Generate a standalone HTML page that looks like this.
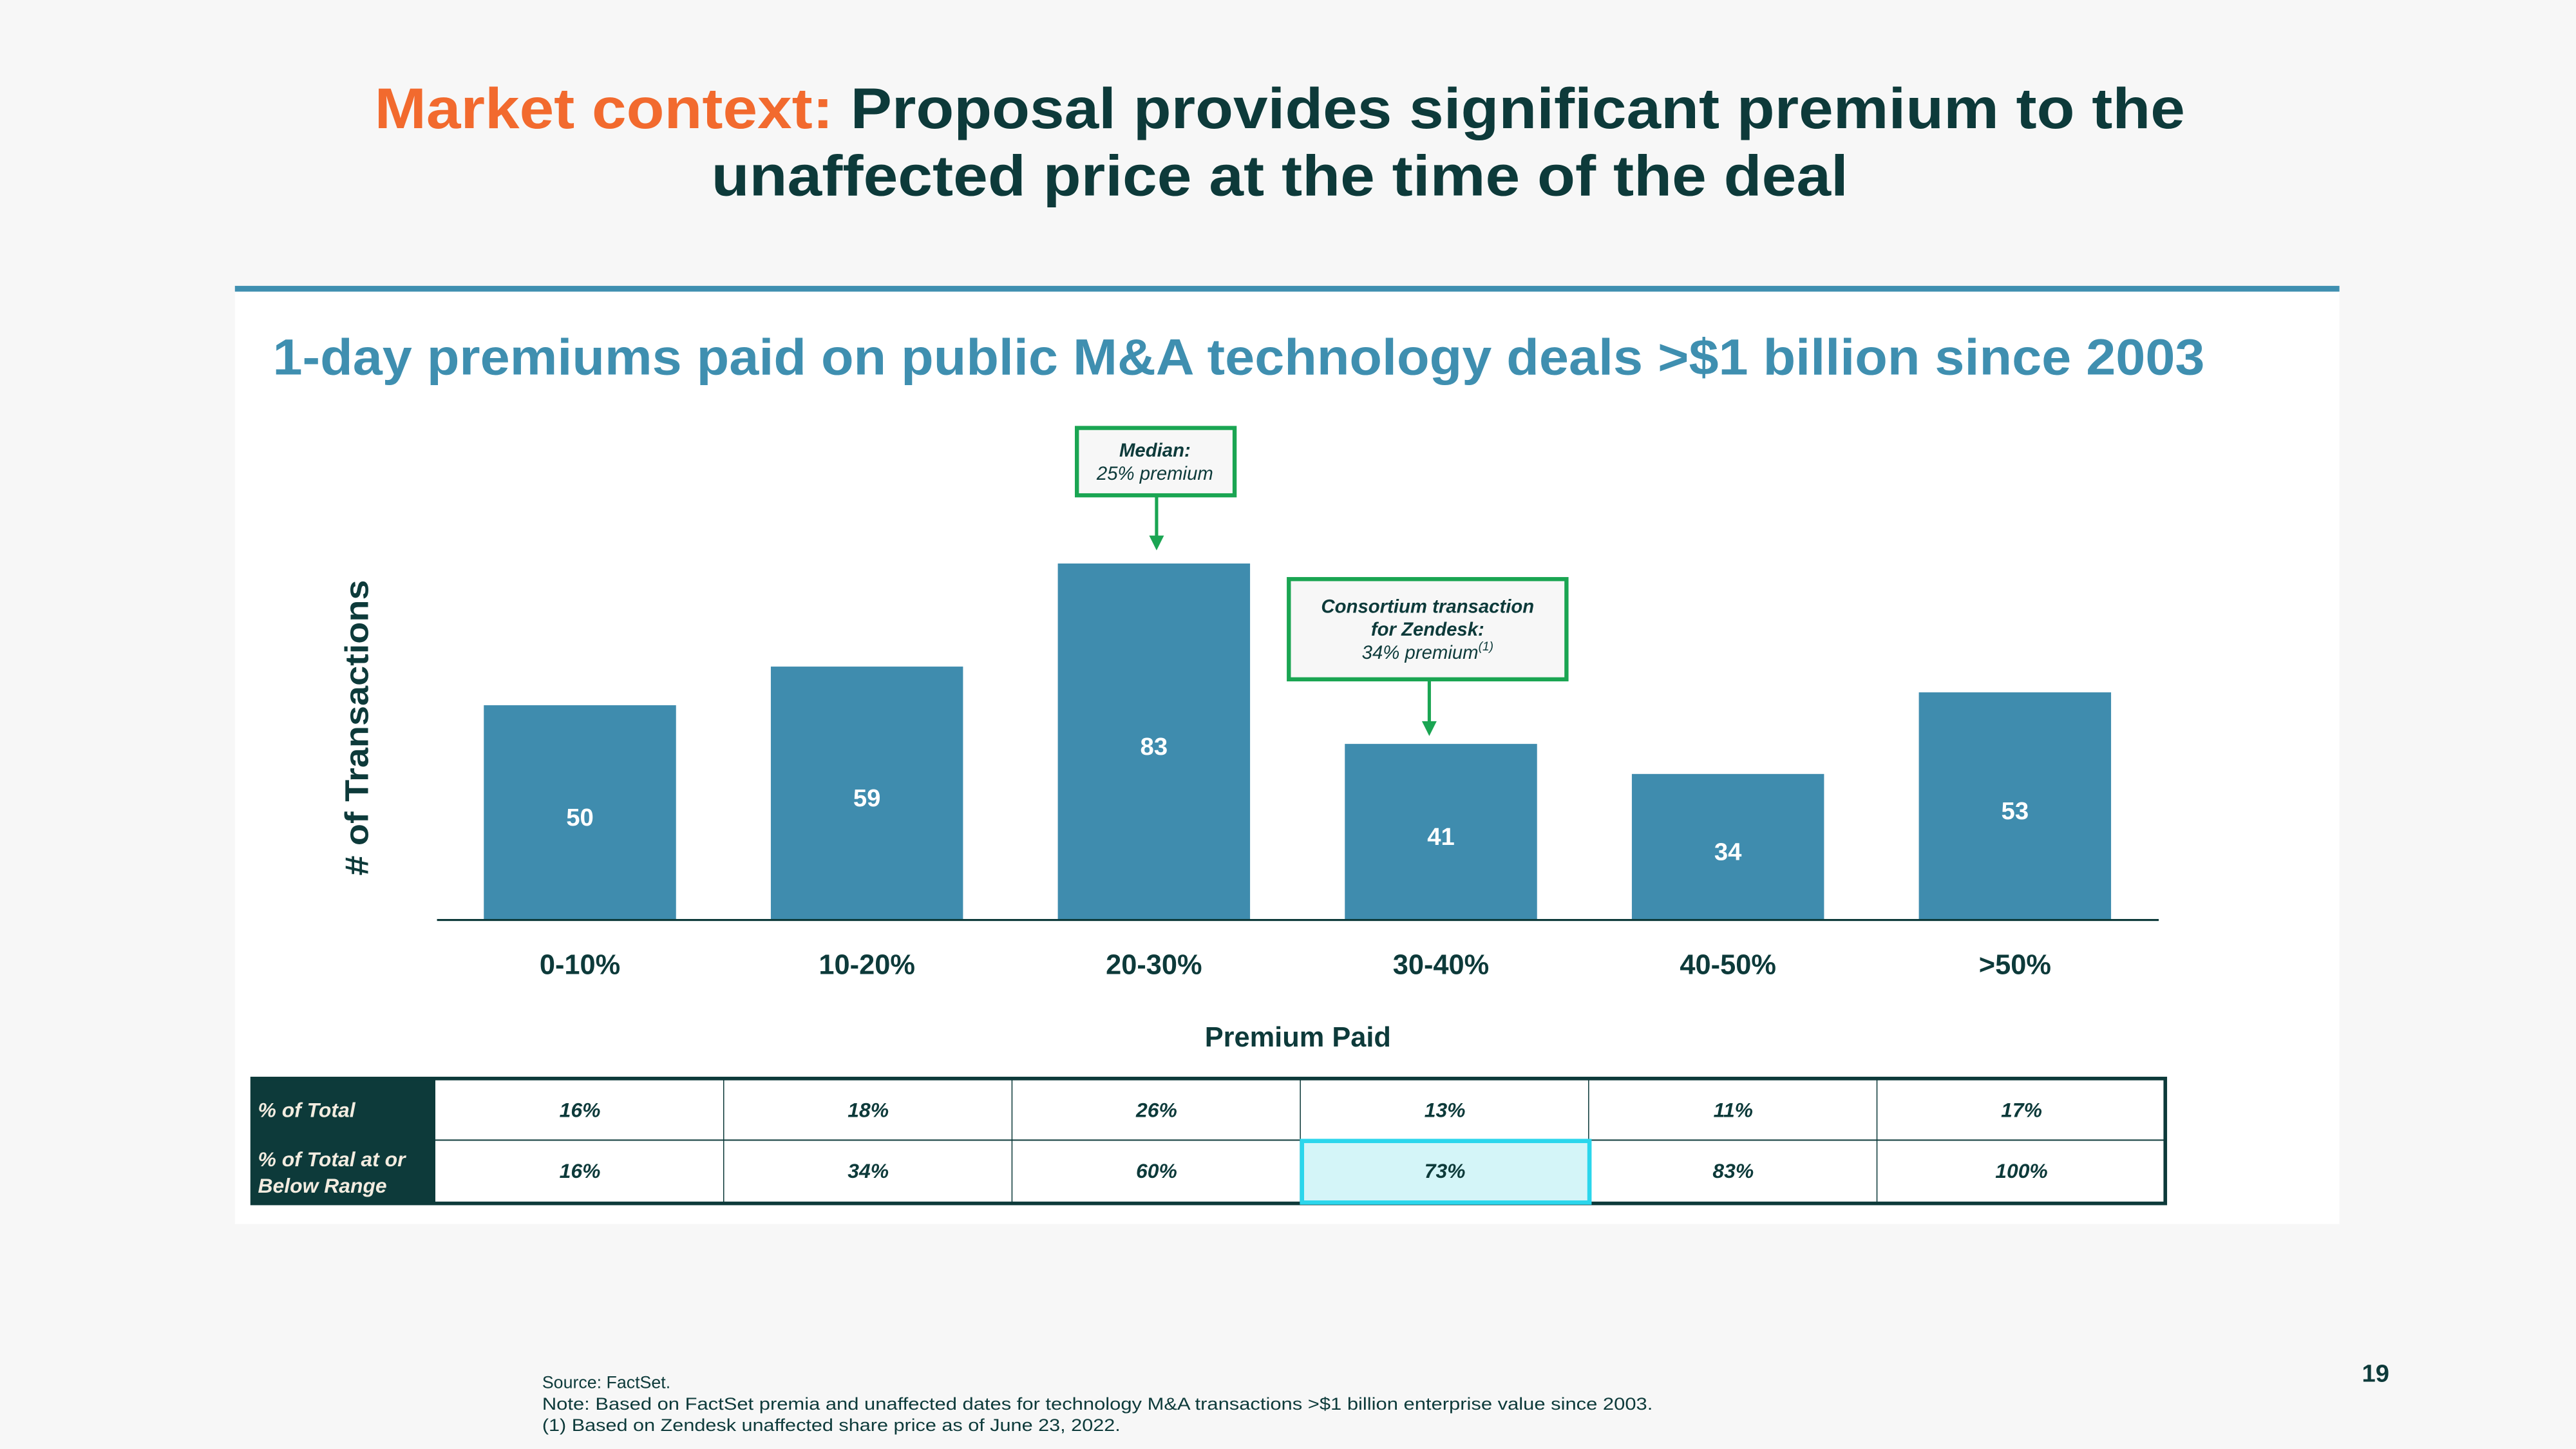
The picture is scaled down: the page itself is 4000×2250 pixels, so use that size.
<!DOCTYPE html>
<html><head><meta charset="utf-8"><style>
html,body{margin:0;padding:0;background:#f7f7f7;}
svg{display:block;font-family:"Liberation Sans",sans-serif;}
</style></head><body>
<svg id="c" width="4000" height="2250" viewBox="0 0 1568 882" xmlns="http://www.w3.org/2000/svg">
<rect width="1568" height="882" fill="#f7f7f7"/>
<text x="228" y="78" font-size="35" font-weight="bold" fill="#0d3a3a" textLength="1102" lengthAdjust="spacingAndGlyphs"><tspan fill="#f26a2e">Market context: </tspan> Proposal provides significant premium to the</text>
<text x="433" y="119" font-size="35" font-weight="bold" fill="#0d3a3a" textLength="692" lengthAdjust="spacingAndGlyphs">unaffected price at the time of the deal</text>
<rect x="143" y="175" width="1281" height="570" fill="#ffffff"/>
<rect x="143" y="174" width="1281" height="3.5" fill="#3f8fb0"/>
<text x="166" y="228" font-size="31" font-weight="bold" fill="#3f8fb0" textLength="1176" lengthAdjust="spacingAndGlyphs">1-day premiums paid on public M&amp;A technology deals &gt;$1 billion since 2003</text>
<text transform="translate(224,443) rotate(-90)" text-anchor="middle" font-size="20" font-weight="bold" fill="#0d3a3a" textLength="180" lengthAdjust="spacingAndGlyphs"># of Transactions</text>
<g id="bars"></g>
<line x1="266" y1="560" x2="1314" y2="560" stroke="#0d3a3a" stroke-width="1.2"/>
<g id="xlabels"></g>
<text x="790" y="637" text-anchor="middle" font-size="17" font-weight="bold" fill="#0d3a3a">Premium Paid</text>
<g>
<rect x="655.5" y="260.5" width="96" height="41" fill="#f7f7f7" stroke="#1aa552" stroke-width="2.5"/>
<text x="703" y="278" text-anchor="middle" font-size="11.5" font-weight="bold" font-style="italic" fill="#0d3a3a">Median:</text>
<text x="703" y="292" text-anchor="middle" font-size="11.5" font-style="italic" fill="#0d3a3a">25% premium</text>
<line x1="704" y1="302" x2="704" y2="328" stroke="#1aa552" stroke-width="2"/>
<polygon points="699.5,326 708.5,326 704,335" fill="#1aa552"/>
</g>
<g>
<rect x="784.5" y="352.5" width="169" height="61" fill="#f7f7f7" stroke="#1aa552" stroke-width="2.5"/>
<text x="869" y="373" text-anchor="middle" font-size="11.5" font-weight="bold" font-style="italic" fill="#0d3a3a">Consortium transaction</text>
<text x="869" y="387" text-anchor="middle" font-size="11.5" font-weight="bold" font-style="italic" fill="#0d3a3a">for Zendesk:</text>
<text x="869" y="401" text-anchor="middle" font-size="11.5" font-style="italic" fill="#0d3a3a">34% premium<tspan font-size="7.5" dy="-5">(1)</tspan></text>
<line x1="870" y1="414" x2="870" y2="441" stroke="#1aa552" stroke-width="2"/>
<polygon points="865.5,439 874.5,439 870,448" fill="#1aa552"/>
</g>
<g id="table">
<rect x="153" y="656" width="112" height="77" fill="#0d3a3a"/>
<text x="157" y="680" font-size="12.5" font-weight="bold" font-style="italic" fill="#f3ece0">% of Total</text>
<text x="157" y="710" font-size="12.5" font-weight="bold" font-style="italic" fill="#f3ece0">% of Total at or</text>
<text x="157" y="726" font-size="12.5" font-weight="bold" font-style="italic" fill="#f3ece0">Below Range</text>
</g>
<text x="330" y="845" font-size="10.5" fill="#0d3a3a">Source: FactSet.</text>
<text x="330" y="858" font-size="10.5" fill="#0d3a3a" textLength="676" lengthAdjust="spacingAndGlyphs">Note: Based on FactSet premia and unaffected dates for technology M&amp;A transactions &gt;$1 billion enterprise value since 2003.</text>
<text x="330" y="871" font-size="10.5" fill="#0d3a3a" textLength="352" lengthAdjust="spacingAndGlyphs">(1)  Based on Zendesk unaffected share price as of June 23, 2022.</text>
<text x="1446" y="841" text-anchor="middle" font-size="15" font-weight="bold" fill="#0d3a3a">19</text>
</svg>
<script>
const categories = ["0-10%","10-20%","20-30%","30-40%","40-50%",">50%"];
const counts = [50,59,83,41,34,53];
const pctTotal = ["16%","18%","26%","13%","11%","17%"];
const pctCumulative = ["16%","34%","60%","73%","83%","100%"];
const highlightIndex = 3;

const NS="http://www.w3.org/2000/svg";
const baseY=560, pxPerUnit=217/83, x0=353, step=174.7, barW=117;
const xPos=i=>x0+i*step;
const yPos=v=>baseY-v*pxPerUnit;
function el(tag,attrs,parent){const e=document.createElementNS(NS,tag);for(const k in attrs)e.setAttribute(k,attrs[k]);parent.appendChild(e);return e;}
const bars=document.getElementById('bars'), xl=document.getElementById('xlabels'), tb=document.getElementById('table');
counts.forEach((v,i)=>{
  const r=el('rect',{x:xPos(i)-barW/2,y:yPos(v),width:barW,height:baseY-yPos(v),fill:'#3f8cae'},bars);
  
  
  const t=el('text',{x:xPos(i),y:(yPos(v)+baseY)/2+8,'text-anchor':'middle','font-size':15,'font-weight':'bold',fill:'#ffffff'},bars);
  t.textContent=v;
  
  
  const c=el('text',{x:xPos(i),y:593,'text-anchor':'middle','font-size':17,'font-weight':'bold',fill:'#0d3a3a'},xl);
  c.textContent=categories[i];
  
  
});
const colX=i=>265+i*175.5;
el('rect',{x:265,y:657,width:1053,height:75,fill:'#ffffff'},tb);
if(highlightIndex>=0){
  const h=el('rect',{x:colX(highlightIndex)+1,y:694.5,width:174,height:37,fill:'#d4f5f8'},tb);
  
  
}
for(let i=1;i<categories.length;i++) el('line',{x1:colX(i),y1:657,x2:colX(i),y2:732,stroke:'#0d3a3a','stroke-width':0.6},tb);
el('line',{x1:265,y1:694,x2:1318,y2:694,stroke:'#0d3a3a','stroke-width':0.8},tb);
el('rect',{x:153.5,y:656.5,width:1164.5,height:76,fill:'none',stroke:'#0d3a3a','stroke-width':2.2},tb);
if(highlightIndex>=0) el('rect',{x:colX(highlightIndex)+1,y:694.5,width:175,height:37.5,fill:'none',stroke:'#2bd6ec','stroke-width':2.6},tb);
categories.forEach((c,i)=>{
  const a=el('text',{x:colX(i)+88,y:680,'text-anchor':'middle','font-size':12.5,'font-weight':'bold','font-style':'italic',fill:'#0d3a3a'},tb);
  a.textContent=pctTotal[i];
  
  
  const b=el('text',{x:colX(i)+88,y:717,'text-anchor':'middle','font-size':12.5,'font-weight':'bold','font-style':'italic',fill:'#0d3a3a'},tb);
  b.textContent=pctCumulative[i];
  
  
});
</script>
</body></html>
